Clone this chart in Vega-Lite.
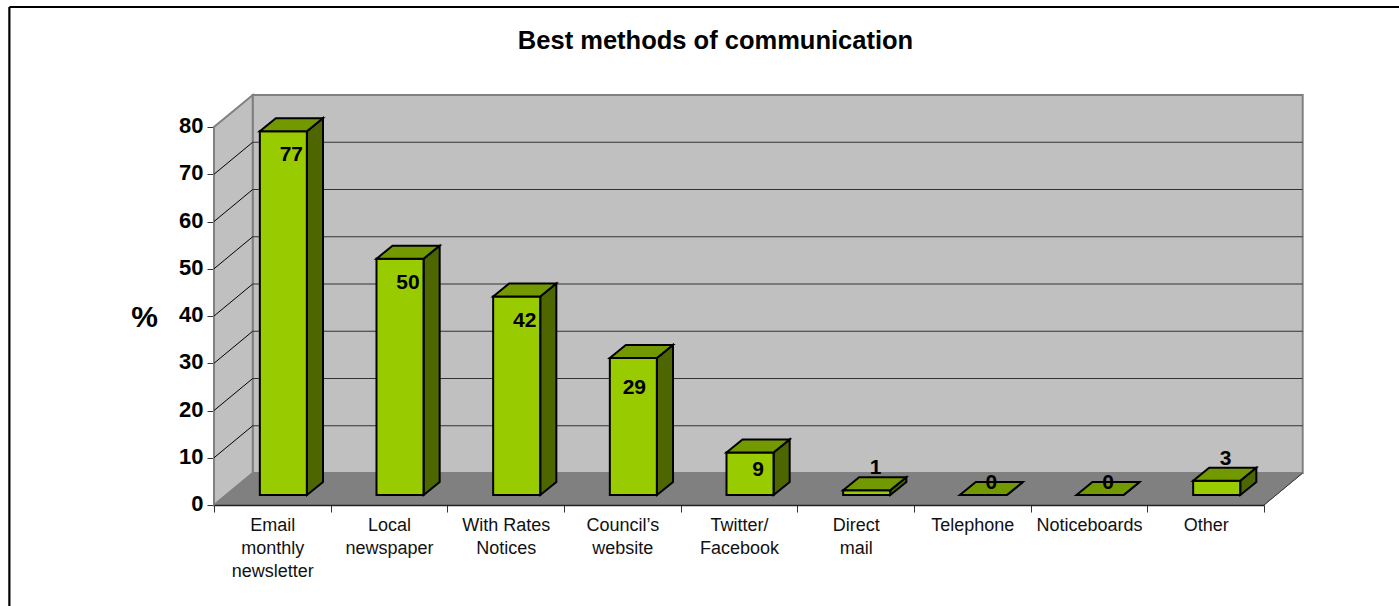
{
  "$schema": "https://vega.github.io/schema/vega-lite/v6.json",
  "width": 1399,
  "height": 606,
  "padding": 0,
  "autosize": "none",
  "background": "white",
  "view": {"stroke": null},
  "config": {"font": "Liberation Sans"},
  "title": {
    "text": "Best methods of communication",
    "anchor": "middle",
    "frame": "group",
    "fontSize": 25.5,
    "fontWeight": "bold",
    "color": "black",
    "offset": 0,
    "dx": 16,
    "dy": 54
  },
  "datasets": {
    "bars": [
      {"method": "Email|monthly|newsletter", "percent": 77},
      {"method": "Local|newspaper", "percent": 50},
      {"method": "With Rates|Notices", "percent": 42},
      {"method": "Council’s|website", "percent": 29},
      {"method": "Twitter/|Facebook", "percent": 9},
      {"method": "Direct|mail", "percent": 1},
      {"method": "Telephone", "percent": 0},
      {"method": "Noticeboards", "percent": 0},
      {"method": "Other", "percent": 3}
    ],
    "depth": [
      {"plane": "front", "rise": 2.12},
      {"plane": "back", "rise": 4.87}
    ],
    "inner_ticks": [
      {"tick": 10}, {"tick": 20}, {"tick": 30}, {"tick": 40},
      {"tick": 50}, {"tick": 60}, {"tick": 70}
    ],
    "one": [{"shape": "room"}]
  },
  "data": {"name": "bars"},
  "resolve": {"scale": {"x": "independent"}},
  "layer": [
    {
      "data": {"name": "one"},
      "encoding": {
        "x": {
          "datum": 0,
          "type": "quantitative",
          "scale": {"domain": [0, 9], "range": [214, 1264]},
          "axis": null
        }
      },
      "layer": [
        {
          "mark": {
            "type": "rect",
            "fill": "#C0C0C0",
            "stroke": "#808080",
            "strokeWidth": 2,
            "xOffset": 38.7,
            "x2Offset": 38.7,
            "yOffset": -32,
            "y2Offset": -32
          },
          "encoding": {
            "x2": {"datum": 9},
            "y": {
              "datum": 0,
              "type": "quantitative",
              "scale": {"domain": [0, 80], "range": [505, 127]},
              "axis": {
                "values": [0, 10, 20, 30, 40, 50, 60, 70, 80],
                "offset": -214,
                "domain": true,
                "domainColor": "#666666",
                "domainWidth": 1.5,
                "grid": false,
                "tickColor": "#333333",
                "tickSize": 7,
                "labelColor": "black",
                "labelFontSize": 22,
                "labelFontWeight": "bold",
                "labelPadding": 4,
                "labelOffset": -1.5,
                "title": "%",
                "titleFontSize": 30,
                "titleFontWeight": "bold",
                "titleColor": "black",
                "titleAngle": 0,
                "titleAlign": "center",
                "titleBaseline": "middle",
                "titleX": -70,
                "titleY": 317
              }
            },
            "y2": {"datum": 80}
          }
        },
        {
          "mark": {
            "type": "point",
            "shape": "M0 0L38.7 -32L38.7 -410L0 -378Z",
            "size": 4,
            "filled": true,
            "fill": "#C0C0C0",
            "stroke": "#808080",
            "strokeWidth": 2,
            "opacity": 1
          },
          "encoding": {"y": {"datum": 0, "type": "quantitative"}}
        },
        {
          "mark": {
            "type": "point",
            "shape": "M0 0L38.7 -32L1088.7 -32L1050 0Z",
            "size": 4,
            "filled": true,
            "fill": "#808080",
            "stroke": "#808080",
            "strokeWidth": 1,
            "opacity": 1
          },
          "encoding": {"y": {"datum": 0, "type": "quantitative"}}
        },
        {
          "data": {"name": "inner_ticks"},
          "mark": {
            "type": "rule",
            "color": "#333333",
            "strokeWidth": 1,
            "xOffset": 38.7,
            "x2Offset": 38.7,
            "yOffset": -32,
            "y2Offset": -32
          },
          "encoding": {
            "y": {"field": "tick", "type": "quantitative"},
            "y2": {"field": "tick"},
            "x2": {"datum": 9}
          }
        },
        {
          "data": {"name": "inner_ticks"},
          "mark": {
            "type": "rule",
            "color": "black",
            "strokeWidth": 1,
            "x2Offset": 38.7,
            "y2Offset": -32
          },
          "encoding": {
            "y": {"field": "tick", "type": "quantitative"},
            "y2": {"field": "tick"},
            "x2": {"datum": 0}
          }
        },
        {
          "mark": {
            "type": "rule",
            "color": "#333333",
            "strokeWidth": 1,
            "x2Offset": 38.7,
            "y2Offset": -32
          },
          "encoding": {
            "x": {"datum": 9, "type": "quantitative"},
            "x2": {"datum": 9},
            "y": {"datum": 0, "type": "quantitative"},
            "y2": {"datum": 0}
          }
        },
        {
          "mark": {"type": "rule", "color": "black", "strokeWidth": 2.2},
          "encoding": {
            "x": {"datum": -1.754, "type": "quantitative"},
            "x2": {"datum": -1.754},
            "y": {"datum": 105.4, "type": "quantitative"},
            "y2": {"datum": -22}
          }
        },
        {
          "mark": {"type": "rule", "color": "black", "strokeWidth": 2.2},
          "encoding": {
            "x": {"datum": -1.754, "type": "quantitative"},
            "x2": {"datum": 10.2},
            "y": {"datum": 105.4, "type": "quantitative"},
            "y2": {"datum": 105.4}
          }
        }
      ]
    },
    {
      "encoding": {
        "x": {
          "field": "method",
          "type": "nominal",
          "sort": null,
          "scale": {
            "type": "band",
            "domain": [
              "Email|monthly|newsletter", "Local|newspaper", "With Rates|Notices",
              "Council’s|website", "Twitter/|Facebook", "Direct|mail",
              "Telephone", "Noticeboards", "Other"
            ],
            "paddingInner": 0,
            "paddingOuter": 0,
            "range": [214, 1264]
          },
          "axis": {
            "title": null,
            "orient": "bottom",
            "offset": -101,
            "zindex": 1,
            "tickBand": "extent",
            "tickSize": 7,
            "tickColor": "#333333",
            "domainColor": "#222222",
            "domainWidth": 1.5,
            "labelAngle": 0,
            "labelColor": "#111111",
            "labelFontSize": 18,
            "labelLineHeight": 23,
            "labelPadding": 4,
            "labelBaseline": "top",
            "labelExpr": "datum.value ? split(datum.value, '|') : ''"
          }
        }
      },
      "layer": [
        {
          "transform": [
            {"fold": ["front", "back"], "as": ["plane", "unused"]},
            {
              "lookup": "plane",
              "from": {"data": {"name": "depth"}, "key": "plane", "fields": ["rise"]}
            },
            {"fold": ["rise", "percent"], "as": ["part", "amount"]},
            {
              "stack": "amount",
              "groupby": ["method", "plane"],
              "sort": [{"field": "part", "order": "descending"}],
              "as": ["low", "high"]
            },
            {"filter": "datum.part == 'percent'"}
          ],
          "mark": {
            "type": "area",
            "fill": "#4D6600",
            "stroke": "black",
            "strokeWidth": 2,
            "opacity": 1,
            "orient": "vertical"
          },
          "encoding": {
            "detail": {"field": "method"},
            "xOffset": {
              "field": "plane",
              "type": "nominal",
              "scale": {"type": "point", "padding": 0, "domain": ["front", "back"], "range": [93, 109]}
            },
            "y": {"field": "high", "type": "quantitative"},
            "y2": {"field": "low"}
          }
        },
        {
          "mark": {
            "type": "bar",
            "width": 47,
            "fill": "#99CC00",
            "stroke": "black",
            "strokeWidth": 2,
            "xOffset": 11,
            "yOffset": -10,
            "y2Offset": -10
          },
          "encoding": {
            "y": {"field": "percent", "type": "quantitative"},
            "y2": {"datum": 0}
          }
        },
        {
          "mark": {
            "type": "point",
            "shape": "M0 0L16 -13L63 -13L47 0Z",
            "size": 4,
            "filled": true,
            "fill": "#739900",
            "stroke": "black",
            "strokeWidth": 2,
            "opacity": 1,
            "xOffset": -12.5,
            "yOffset": -10
          },
          "encoding": {
            "y": {"field": "percent", "type": "quantitative"}
          }
        },
        {
          "transform": [{"filter": "datum.percent >= 42"}],
          "mark": {"type": "text", "fontSize": 21, "fontWeight": "bold", "color": "black", "dx": 19, "dy": 14, "baseline": "middle"},
          "encoding": {
            "y": {"field": "percent", "type": "quantitative"},
            "text": {"field": "percent", "type": "quantitative"}
          }
        },
        {
          "transform": [{"filter": "datum.percent == 29"}],
          "mark": {"type": "text", "fontSize": 21, "fontWeight": "bold", "color": "black", "dx": 12, "dy": 20, "baseline": "middle"},
          "encoding": {
            "y": {"field": "percent", "type": "quantitative"},
            "text": {"field": "percent", "type": "quantitative"}
          }
        },
        {
          "transform": [{"filter": "datum.percent == 9"}],
          "mark": {"type": "text", "fontSize": 21, "fontWeight": "bold", "color": "black", "dx": 19, "dy": 7.5, "baseline": "middle"},
          "encoding": {
            "y": {"field": "percent", "type": "quantitative"},
            "text": {"field": "percent", "type": "quantitative"}
          }
        },
        {
          "transform": [{"filter": "datum.percent == 1 || datum.percent == 3"}],
          "mark": {"type": "text", "fontSize": 21, "fontWeight": "bold", "color": "black", "dx": 20, "dy": -32, "baseline": "middle"},
          "encoding": {
            "y": {"field": "percent", "type": "quantitative"},
            "text": {"field": "percent", "type": "quantitative"}
          }
        },
        {
          "transform": [{"filter": "datum.percent == 0"}],
          "mark": {"type": "text", "fontSize": 21, "fontWeight": "bold", "color": "black", "dx": 19, "dy": -22, "baseline": "middle"},
          "encoding": {
            "y": {"field": "percent", "type": "quantitative"},
            "text": {"field": "percent", "type": "quantitative"}
          }
        }
      ]
    }
  ]
}
